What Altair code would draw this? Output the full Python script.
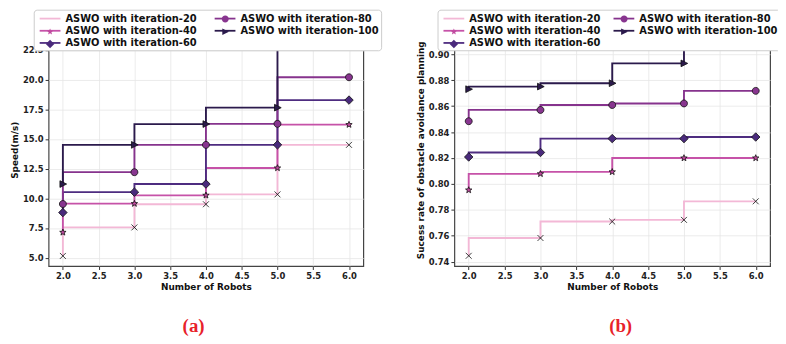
import math
import altair as alt
import pandas as pd

# ---------------- data ----------------
robots = [2, 3, 4, 5, 6]
iterations = ["20", "40", "60", "80", "100"]

speed_20 = [5.15, 7.55, 9.5, 10.33, 14.5]
speed_40 = [7.13, 9.55, 10.25, 12.55, 16.2]
speed_60 = [8.8, 10.52, 11.2, 14.5, 18.27]
speed_80 = [9.52, 12.2, 14.5, 16.27, 20.19]
speed_100 = [11.2, 14.5, 16.25, 17.63, 23.2]

success_20 = [0.7446, 0.7583, 0.771, 0.7723, 0.7866]
success_40 = [0.7953, 0.8078, 0.8093, 0.820, 0.820]
success_60 = [0.8208, 0.8243, 0.835, 0.835, 0.8362]
success_80 = [0.8484, 0.8571, 0.8609, 0.8621, 0.8718]
success_100 = [0.8731, 0.8751, 0.8777, 0.893, 0.910]

speed_ticks = [5.0, 7.5, 10.0, 12.5, 15.0, 17.5, 20.0, 22.5]
success_ticks = [0.74, 0.76, 0.78, 0.80, 0.82, 0.84, 0.86, 0.88, 0.90]
x_ticks = [2.0, 2.5, 3.0, 3.5, 4.0, 4.5, 5.0, 5.5, 6.0]

line_colors = {"20": "#f3b8d6", "40": "#c652a8", "60": "#4e2c80",
               "80": "#86338d", "100": "#2b1a4c"}
fill_colors = {"20": "#444444", "40": "#c04a9f", "60": "#4a2a7c",
               "80": "#88358f", "100": "#2b1a4c"}


def label(it):
    return "ASWO with iteration-" + it


def star_path(outer, inner):
    pts = []
    for k in range(10):
        r = outer if k % 2 == 0 else inner
        a = math.radians(-90 + 36 * k)
        pts.append(f"{r*math.cos(a):.3f},{r*math.sin(a):.3f}")
    return "M" + "L".join(pts) + "Z"


shape_paths = {
    "20": "M-0.46,-0.46L0.46,0.46M-0.46,0.46L0.46,-0.46",
    "40": star_path(0.52, 0.22),
    "60": "M0,-0.66L0.66,0L0,0.66L-0.66,0Z",
    "80": "M-0.54,0A0.54,0.54 0 1,0 0.54,0A0.54,0.54 0 1,0 -0.54,0Z",
    "100": "M0.58,0L-0.46,-0.52L-0.46,0.52Z",
}


def build_df(series_map):
    rows = []
    for it in iterations:
        for x, v in zip(robots, series_map[it]):
            rows.append({"robots": x, "value": v, "iter": it, "series": label(it)})
    return pd.DataFrame(rows)


speed_df = build_df({"20": speed_20, "40": speed_40, "60": speed_60,
                     "80": speed_80, "100": speed_100})
success_df = build_df({"20": success_20, "40": success_40, "60": success_60,
                       "80": success_80, "100": success_100})

FONT = "DejaVu Sans"
LEG_FONT_SIZE = 10
LEG_Y = -24


def panel(df, width, ydomain, yticks, yfmt, ytitle, caption, cap_dx, leg_x,
          col_pad, marker_col_pad):
    stroke_scale = alt.Scale(domain=iterations,
                             range=[line_colors[i] for i in iterations])
    fill_scale = alt.Scale(domain=[label(i) for i in iterations],
                           range=[fill_colors[i] for i in iterations])
    shape_scale = alt.Scale(domain=[label(i) for i in iterations],
                            range=[shape_paths[i] for i in iterations])
    line_legend = alt.Legend(
        orient="none", legendX=leg_x, legendY=LEG_Y, padding=2, columns=2, title=None,
        symbolType="M-1.75,0L1.75,0", symbolSize=144, symbolStrokeWidth=1.8,
        symbolOffset=7.5,
        labelExpr="'ASWO with iteration-' + datum.label",
        labelFont=FONT, labelFontSize=LEG_FONT_SIZE, labelFontWeight="bold",
        labelColor="#111111", labelOffset=8.5, labelLimit=400,
        columnPadding=col_pad, rowPadding=0.3,
        fillColor="white", strokeColor="#cccccc", cornerRadius=3, zindex=1)
    marker_legend = alt.Legend(
        orient="none", legendX=leg_x + 9.5, legendY=LEG_Y + 2, padding=0, columns=2,
        title=None, symbolSize=169, symbolStrokeWidth=0.8, symbolStrokeColor="#111111",
        labelExpr="''", labelFont=FONT, labelFontSize=LEG_FONT_SIZE,
        labelOffset=0, columnPadding=marker_col_pad, rowPadding=0.3, zindex=2)

    x_enc = alt.X("robots:Q", scale=alt.Scale(domain=[1.8, 6.2], nice=False, zero=False),
                  axis=alt.Axis(values=x_ticks, format=".1f", title="Number of Robots"))
    y_enc = alt.Y("value:Q", scale=alt.Scale(domain=ydomain, nice=False, zero=False),
                  axis=alt.Axis(values=yticks, format=yfmt, title=ytitle))
    layers = []
    for it in iterations:
        base = alt.Chart(df).transform_filter(alt.datum.iter == it)
        layers.append(
            base.mark_line(interpolate="step-before", strokeWidth=1.9, clip=True).encode(
                x=x_enc, y=y_enc,
                stroke=alt.Stroke("iter:N", scale=stroke_scale, legend=line_legend)))
        layers.append(
            base.mark_point(filled=True, size=169, stroke="#111111", strokeWidth=0.8,
                            opacity=1, clip=True).encode(
                x=x_enc, y=y_enc,
                fill=alt.Fill("series:N", scale=fill_scale, legend=marker_legend),
                shape=alt.Shape("series:N", scale=shape_scale, legend=marker_legend)))
    return alt.layer(*layers).properties(
        width=width, height=235,
        title=alt.TitleParams(text=caption, orient="bottom", anchor="middle",
                              font="Liberation Serif", fontSize=19, fontWeight="bold",
                              color="#e8222a", offset=26, dx=cap_dx))


panel_a = panel(speed_df, 318, [4.3, 23.88], speed_ticks, ".1f", "Speed(m/s)",
                "(a)", -12.5, -15, 13.8, 163)
panel_b = panel(success_df, 319, [0.7367, 0.9161], success_ticks, ".2f",
                "Sucess rate of obstacle avoidance planning", "(b)", 8.5, -17,
                8.8, 158)

chart = alt.hconcat(panel_a, panel_b, spacing=92, bounds="flush").resolve_scale(
    x="independent", y="independent", stroke="independent",
    fill="independent", shape="independent"
).resolve_legend(
    stroke="independent", fill="independent", shape="independent"
).properties(
    autosize=alt.AutoSizeParams(type="none"),
    padding={"left": 41, "top": 24, "right": 737, "bottom": 69},
    background="white",
).configure_view(
    stroke="#444444", strokeWidth=1.2
).configure_axis(
    labelFont=FONT, labelFontSize=8.5, labelFontWeight="bold", labelColor="#222222",
    titleFont=FONT, titleFontSize=9, titleFontWeight="bold", titleColor="#111111",
    domain=False, tickColor="#333333", tickSize=3.5, tickWidth=1,
    gridColor="#e6e6e6", gridWidth=0.8, labelPadding=2, titlePadding=3,
)

chart.save("out.html", embed_options={"renderer": "svg", "actions": False})
